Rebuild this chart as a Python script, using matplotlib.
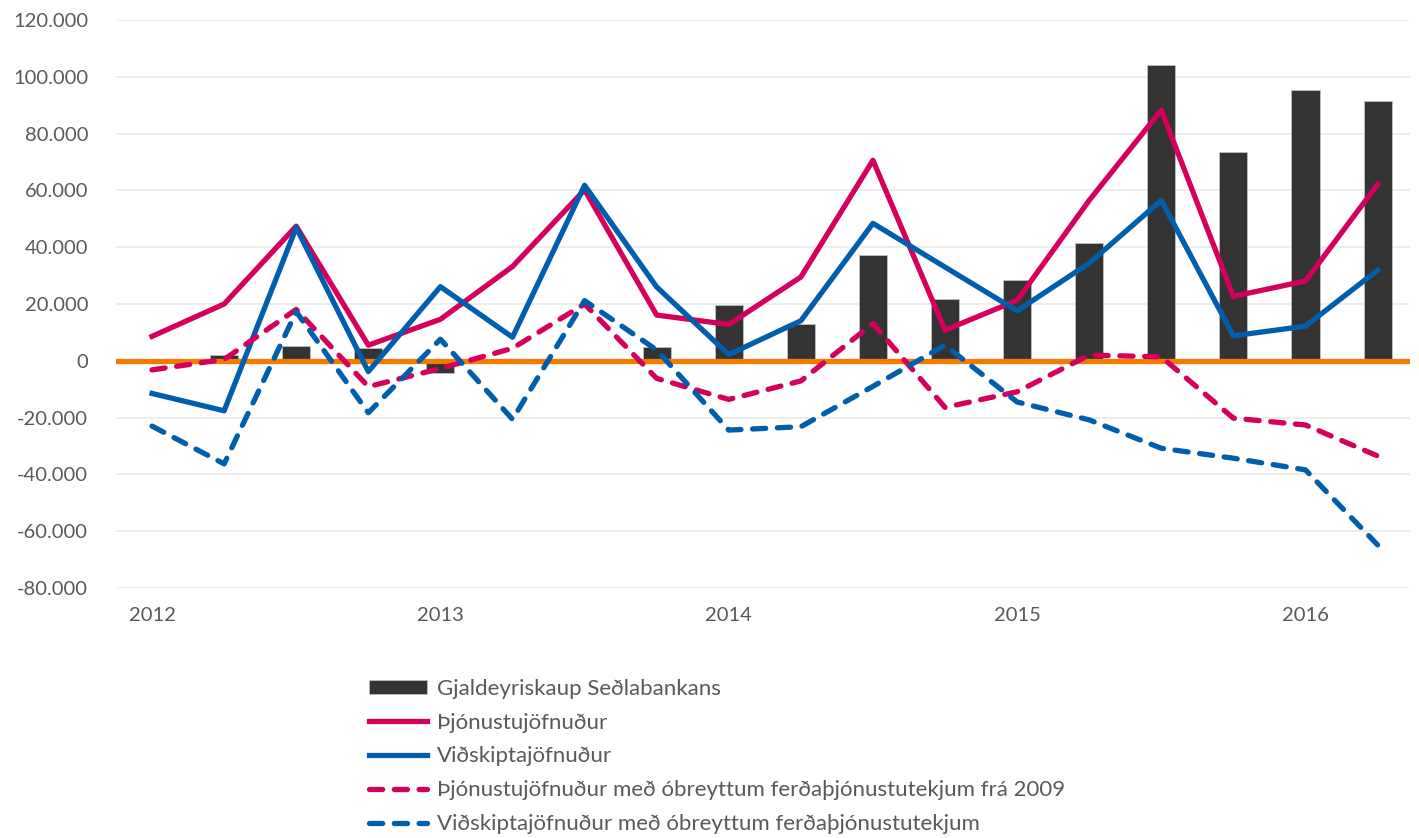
import matplotlib.pyplot as plt
import numpy as np

# quarters 2012Q1 .. 2016Q2
quarters = list(range(18))
year_ticks = [0, 4, 8, 12, 16]
year_labels = ["2012", "2013", "2014", "2015", "2016"]

# values in millions kr
gjaldeyriskaup = [0, 2.2, 5.3, 4.4, -4.2, 0, 0.7, 4.8, 19.5, 13.0,
                  37.3, 21.6, 28.6, 41.6, 104.2, 73.6, 95.3, 91.6]
thjonustu = [8.6, 20.0, 47.4, 5.5, 14.6, 33.2, 60.2, 16.1, 12.8, 29.5,
             70.6, 10.8, 21.3, 56.5, 88.3, 22.7, 28.1, 62.1]
vidskipta = [-11.5, -17.6, 46.9, -3.8, 26.1, 8.3, 61.8, 26.0, 2.2, 14.1,
             48.4, 33.0, 17.6, 34.4, 56.5, 8.8, 12.2, 31.9]
thjonustu_obr = [-3.2, 0.5, 18.1, -9.1, -2.7, 4.4, 20.0, -6.2, -13.6, -7.1,
                 13.1, -16.4, -10.9, 2.0, 1.4, -20.2, -22.6, -33.5]
vidskipta_obr = [-23.0, -36.3, 17.3, -18.3, 7.6, -20.6, 21.2, 3.8, -24.4, -23.2,
                 -9.0, 5.5, -14.5, -20.8, -30.8, -34.3, -38.4, -64.8]

pink = "#d5005b"
blue = "#005eac"
orange = "#f57b00"
grey_text = "#595959"

plt.rcParams['font.family'] = ['Lato', 'DejaVu Sans']

fig = plt.figure(figsize=(14.19, 8.38), dpi=100)
ax = fig.add_axes([116 / 1419, 1 - 588 / 838, (1410 - 116) / 1419, (588 - 20) / 838])

x = np.array(quarters)
bars = ax.bar(x, gjaldeyriskaup, width=0.39, color="#333333", edgecolor="#bfbfbf",
              linewidth=0.6, label="Gjaldeyriskaup Seðlabankans", zorder=2)
ax.axhline(0, color=orange, lw=3.8, zorder=3)
l1, = ax.plot(x, thjonustu, color=pink, lw=3.8, label="Þjónustujöfnuður", zorder=4)
l2, = ax.plot(x, vidskipta, color=blue, lw=3.8, label="Viðskiptajöfnuður", zorder=4)
l3, = ax.plot(x, thjonustu_obr, color=pink, lw=3.8, dashes=(2.5, 2.2), dash_capstyle="round",
              label="Þjónustujöfnuður með óbreyttum ferðaþjónustutekjum frá 2009", zorder=4)
l4, = ax.plot(x, vidskipta_obr, color=blue, lw=3.8, dashes=(2.5, 2.2), dash_capstyle="round",
              label="Viðskiptajöfnuður með óbreyttum ferðaþjónustutekjum", zorder=4)

ax.set_xlim(-0.5, 17.45)
ax.set_ylim(-80, 120)
yt = np.arange(-80, 121, 20)
ax.set_yticks(yt)
ax.set_yticklabels([f"{v:.3f}" if v != 0 else "0" for v in yt], color=grey_text, fontsize=14.5)
ax.set_xticks(year_ticks)
ax.set_xticklabels(year_labels, color=grey_text, fontsize=14.5)
ax.tick_params(length=0, pad=20)
ax.tick_params(axis="x", pad=14)
ax.grid(axis="y", color="#ececec", lw=1.3, zorder=0)
for s in ax.spines.values():
    s.set_visible(False)
ax.set_axisbelow(True)

handles = [bars, l1, l2, l3, l4]
labels = [h.get_label() for h in handles]
fig.legend(handles, labels, loc="upper left", bbox_to_anchor=(360 / 1419, 1 - 670 / 838),
           frameon=False, fontsize=16, labelcolor=grey_text, handlelength=2.6,
           handleheight=0.6, handletextpad=0.45, labelspacing=0.62, borderaxespad=0)

fig.savefig("out.png", dpi=100, facecolor="white")
